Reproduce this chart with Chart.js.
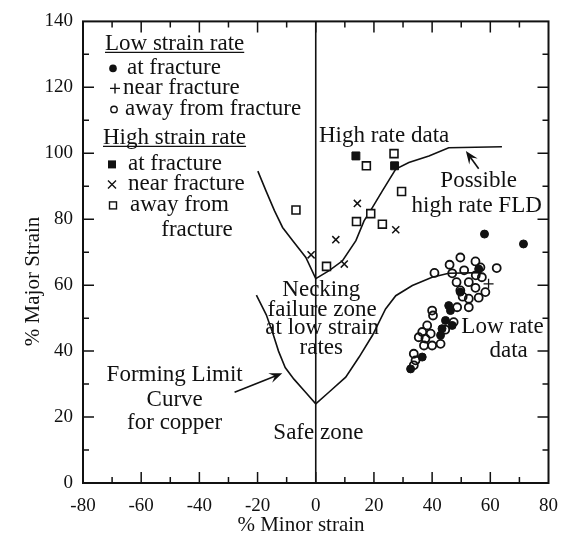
<!DOCTYPE html>
<html>
<head>
<meta charset="utf-8">
<script src="https://cdn.jsdelivr.net/npm/chart.js@4.4.1/dist/chart.umd.min.js"></script>
<style>
  html, body { margin: 0; padding: 0; background: #fff; }
  #wrap { width: 570px; height: 535px; }
</style>
</head>
<body>
<div id="wrap"><canvas id="fld"></canvas></div>
<script>
(function () {
    'use strict';

    // ── Axes ────────────────────────────────────────────────────
    const X_TICKS = [-80, -60, -40, -20, 0, 20, 40, 60, 80];
    const Y_TICKS = [0, 20, 40, 60, 80, 100, 120, 140];
    const X_TITLE = '% Minor strain';
    const Y_TITLE = '% Major Strain';

    // ── Forming limit curves ────────────────────────────────────
    const lowFlcX  = [-20.4, -17, -14.7, -12.8, -10.5, -7.5, -3.5, 0, 4.6, 10.3, 14.9, 19.5, 24, 27.5, 33.2, 40, 45.7, 57];
    const lowFlcY  = [57, 51, 45.3, 40, 35, 31.5, 27.5, 24, 27.6, 32.1, 38.2, 44.8, 52.8, 56.8, 59.9, 62.4, 63.6, 63.8];

    const highFlcX = [-19.9, -17.1, -14.2, -11.4, -7.9, -3.4, 0, 4.6, 9.2, 13.8, 16.6, 19.5, 22.9, 27.5, 32, 38.9, 45.7, 64];
    const highFlcY = [94.6, 88.6, 82.6, 77.5, 73.5, 68.4, 62, 64.4, 67.4, 73.5, 79.5, 83.6, 88.6, 95.2, 97.2, 99.2, 101.7, 102];

    // ── Low strain rate data ────────────────────────────────────
    const lowFracX = [58.0, 71.4, 45.7, 46.3, 43.4, 46.9, 32.6, 36.6, 44.6, 42.9, 49.7, 56.0];
    const lowFracY = [75.5, 72.5, 53.8, 52.3, 46.8, 47.8, 34.6, 38.2, 49.3, 44.8, 57.9, 64.9];

    const lowNearX = [59.4];
    const lowNearY = [60.4];

    const lowAwayX = [49.7, 46, 54.9, 40.8, 46.9, 56.6, 62.2, 48.4, 52.6, 57.1, 49.7, 54.9, 58.3, 52.6, 56,
                      48.6, 52.6, 40, 40.3, 47.4, 38.3, 36.6, 39.5, 35.4, 37.7, 40, 42.9, 37.2, 33.7, 34.3,
                      33.7, 44.5, 50.5, 55, 51];
    const lowAwayY = [68.4, 66.2, 67.2, 63.7, 63.6, 65.4, 65.2, 60.9, 60.9, 62.4, 58.4, 59.2, 57.9, 55.9, 56.2,
                      53.3, 53.3, 52.3, 50.8, 48.8, 47.8, 45.8, 45.3, 44.2, 43.8, 41.7, 42.2, 41.7, 39.2, 37.2,
                      35.7, 46.5, 56.5, 63, 64.5];

    // ── High strain rate data ───────────────────────────────────
    const highFracX = [13.8, 27.1];
    const highFracY = [99.2, 96.2];

    const highNearX = [14.3, 27.5, 6.9, -1.6, 9.8];
    const highNearY = [84.8, 76.8, 73.8, 69.2, 66.4];

    const highAwayX = [26.9, 17.4, 29.5, -6.8, 18.9, 14.0, 22.9, 3.7];
    const highAwayY = [99.9, 96.2, 88.4, 82.8, 81.7, 79.3, 78.5, 65.7];

    // ── Helpers ─────────────────────────────────────────────────
    const zip = (xs, ys) => xs.map((x, i) => ({ x, y: ys[i] }));

    const SERIF = '"Liberation Serif", "DejaVu Serif", serif';
    const INK = '#111';

    function pointSet(xs, ys, style, radius, fill, bw) {
        return {
            data: zip(xs, ys),
            showLine: false,
            pointStyle: style,
            pointRadius: radius,
            pointBackgroundColor: fill,
            pointBorderColor: INK,
            pointBorderWidth: bw,
        };
    }

    function lineSet(xs, ys) {
        return {
            data: zip(xs, ys),
            showLine: true,
            borderColor: INK,
            borderWidth: 1.6,
            pointRadius: 0,
            tension: 0,
        };
    }

    // text notes in data coordinates
    const NOTES = [
        ['High rate data', 23.5, 105.2],
        ['Possible', 56, 91.6],
        ['high rate FLD', 55.3, 84.1],
        ['Necking', 1.9, 58.4],
        ['failure zone', 2.2, 52.6],
        ['at low strain', 2.2, 46.9],
        ['rates', 1.9, 41.1],
        ['Low rate', 64.2, 47.2],
        ['data', 66.3, 40.2],
        ['Safe zone', 0.9, 15.1],
        ['Forming Limit', -48.5, 32.7],
        ['Curve', -48.5, 25.1],
        ['for copper', -48.5, 18.1],
    ];
    // arrows: [fromX, fromY, toX, toY]
    const ARROWS = [
        [-27.9, 27.5, -11.5, 33.3],
        [56, 95.3, 51.6, 100.7],
    ];

    function arrow(ctx, x1, y1, x2, y2) {
        const a = Math.atan2(y2 - y1, x2 - x1);
        ctx.beginPath();
        ctx.moveTo(x1, y1);
        ctx.lineTo(x2 - 4 * Math.cos(a), y2 - 4 * Math.sin(a));
        ctx.stroke();
        ctx.beginPath();
        ctx.moveTo(x2, y2);
        ctx.lineTo(x2 - 14 * Math.cos(a - 0.38), y2 - 14 * Math.sin(a - 0.38));
        ctx.lineTo(x2 - 8 * Math.cos(a), y2 - 8 * Math.sin(a));
        ctx.lineTo(x2 - 14 * Math.cos(a + 0.38), y2 - 14 * Math.sin(a + 0.38));
        ctx.closePath();
        ctx.fill();
    }

    function symbol(ctx, kind, x, y) {
        ctx.beginPath();
        if (kind === 'dot') {
            ctx.arc(x, y, 3.8, 0, Math.PI * 2);
            ctx.fill();
        } else if (kind === 'ring') {
            ctx.arc(x, y, 3.2, 0, Math.PI * 2);
            ctx.stroke();
        } else if (kind === 'plus') {
            ctx.moveTo(x - 5, y); ctx.lineTo(x + 5, y);
            ctx.moveTo(x, y - 5); ctx.lineTo(x, y + 5);
            ctx.stroke();
        } else if (kind === 'cross') {
            ctx.moveTo(x - 4, y - 4); ctx.lineTo(x + 4, y + 4);
            ctx.moveTo(x + 4, y - 4); ctx.lineTo(x - 4, y + 4);
            ctx.stroke();
        } else if (kind === 'block') {
            ctx.fillRect(x - 4, y - 4, 8, 8);
        } else if (kind === 'box') {
            ctx.strokeRect(x - 3.5, y - 3.5, 7, 7);
        }
    }

    // legend laid out relative to the plot's top-left corner
    const LEGEND = [
        { head: 'Low strain rate', dx: 22, dy: 23 },
        { sym: 'dot',   text: 'at fracture',        sx: 30, dx: 44, dy: 47 },
        { sym: 'plus',  text: 'near fracture',      sx: 32, dx: 40, dy: 67 },
        { sym: 'ring',  text: 'away from fracture', sx: 31, dx: 42, dy: 88 },
        { head: 'High strain rate', dx: 20, dy: 117 },
        { sym: 'block', text: 'at fracture',        sx: 29, dx: 45, dy: 143 },
        { sym: 'cross', text: 'near fracture',      sx: 29, dx: 45, dy: 163 },
        { sym: 'box',   text: 'away from',          sx: 30, dx: 47, dy: 184 },
        { text: 'fracture', center: 114, dy: 209 },
    ];

    const decorations = {
        id: 'decorations',
        afterDatasetsDraw(chart) {
            const { ctx, chartArea: ca } = chart;
            const xs = chart.scales.x, ys = chart.scales.y;
            ctx.save();
            ctx.strokeStyle = INK;
            ctx.fillStyle = INK;

            // frame
            ctx.lineWidth = 2;
            ctx.strokeRect(ca.left, ca.top, ca.right - ca.left, ca.bottom - ca.top);

            // inward ticks every 10, long ones every 20
            ctx.lineWidth = 1.5;
            ctx.beginPath();
            for (let v = -70; v < 80; v += 10) {
                const p = xs.getPixelForValue(v);
                const len = v % 20 === 0 ? 11 : 6;
                ctx.moveTo(p, ca.bottom); ctx.lineTo(p, ca.bottom - len);
                ctx.moveTo(p, ca.top);    ctx.lineTo(p, ca.top + len);
            }
            for (let v = 10; v < 140; v += 10) {
                const p = ys.getPixelForValue(v);
                const len = v % 20 === 0 ? 11 : 6;
                ctx.moveTo(ca.left, p);  ctx.lineTo(ca.left + len, p);
                ctx.moveTo(ca.right, p); ctx.lineTo(ca.right - len, p);
            }
            ctx.stroke();

            // axis titles
            ctx.font = '21px ' + SERIF;
            ctx.textBaseline = 'middle';
            ctx.textAlign = 'center';
            ctx.fillText(X_TITLE, ca.left + 218, ca.bottom + 42);
            ctx.save();
            ctx.translate(33, ca.top + 260);
            ctx.rotate(-Math.PI / 2);
            ctx.fillText(Y_TITLE, 0, 0);
            ctx.restore();

            // notes
            ctx.font = '23px ' + SERIF;
            NOTES.forEach(([t, x, y]) => {
                ctx.fillText(t, xs.getPixelForValue(x), ys.getPixelForValue(y));
            });

            ctx.lineWidth = 1.6;
            ARROWS.forEach(([x1, y1, x2, y2]) => {
                arrow(ctx, xs.getPixelForValue(x1), ys.getPixelForValue(y1),
                           xs.getPixelForValue(x2), ys.getPixelForValue(y2));
            });

            // legend
            LEGEND.forEach(row => {
                const y = ca.top + row.dy;
                if (row.head) {
                    ctx.textAlign = 'left';
                    const x = ca.left + row.dx;
                    ctx.fillText(row.head, x, y);
                    const w = ctx.measureText(row.head).width;
                    ctx.lineWidth = 1.4;
                    ctx.beginPath();
                    ctx.moveTo(x, y + 8); ctx.lineTo(x + w, y + 8);
                    ctx.stroke();
                    return;
                }
                if (row.sym) {
                    ctx.lineWidth = 1.4;
                    symbol(ctx, row.sym, ca.left + row.sx, y);
                }
                if (row.center) {
                    ctx.textAlign = 'center';
                    ctx.fillText(row.text, ca.left + row.center, y);
                } else {
                    ctx.textAlign = 'left';
                    ctx.fillText(row.text, ca.left + row.dx, y);
                }
            });
            ctx.restore();
        },
    };

    // ── Build Chart ─────────────────────────────────────────────
    new Chart(document.getElementById('fld'), {
        type: 'scatter',
        data: {
            datasets: [
                pointSet(lowFracX, lowFracY, 'circle', 4, INK, 1),
                pointSet(lowNearX, lowNearY, 'cross', 5, INK, 1.3),
                pointSet(lowAwayX, lowAwayY, 'circle', 4, 'rgba(0,0,0,0)', 1.8),
                pointSet(highFracX, highFracY, 'rect', 5.6, INK, 1),
                pointSet(highNearX, highNearY, 'crossRot', 5, INK, 1.5),
                pointSet(highAwayX, highAwayY, 'rect', 5.6, '#fff', 1.6),
                lineSet(lowFlcX, lowFlcY),
                lineSet(highFlcX, highFlcY),
                lineSet([0, 0], [Y_TICKS[0], Y_TICKS[Y_TICKS.length - 1]]),
            ],
        },
        plugins: [decorations],
        options: {
            responsive: true,
            maintainAspectRatio: false,
            animation: false,
            layout: { padding: { top: 20, right: 20, left: 0, bottom: 0 } },
            plugins: { legend: { display: false }, tooltip: { enabled: false } },
            scales: {
                x: {
                    type: 'linear',
                    min: X_TICKS[0],
                    max: X_TICKS[X_TICKS.length - 1],
                    afterBuildTicks: s => { s.ticks = X_TICKS.map(v => ({ value: v })); },
                    afterFit: s => { s.height = 52; },
                    grid: { display: false, drawTicks: false },
                    border: { display: false },
                    ticks: { color: INK, padding: 12, font: { family: SERIF, size: 19 } },
                },
                y: {
                    type: 'linear',
                    min: Y_TICKS[0],
                    max: Y_TICKS[Y_TICKS.length - 1],
                    afterBuildTicks: s => { s.ticks = Y_TICKS.map(v => ({ value: v })); },
                    afterFit: s => { s.width = 83; },
                    grid: { display: false, drawTicks: false },
                    border: { display: false },
                    ticks: { color: INK, padding: 10, font: { family: SERIF, size: 19 } },
                },
            },
        },
    });
})();
</script>
</body>
</html>
